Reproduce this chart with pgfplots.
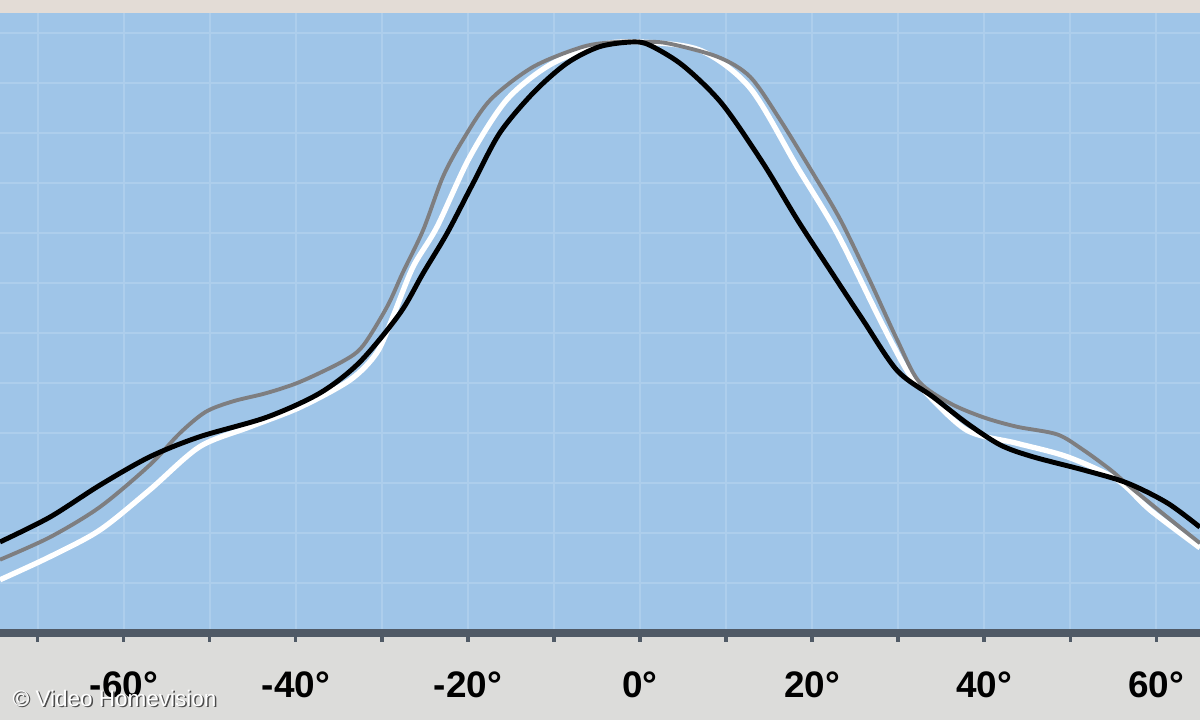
\documentclass[border=0pt]{standalone}
\usepackage{fontspec}
\setmainfont{Liberation Sans}
\usepackage{pgfplots}
\pgfplotsset{compat=1.18}

\definecolor{plotblue}{HTML}{9FC5E8}
\definecolor{gridblue}{HTML}{ADCEEC}
\definecolor{bandgrey}{HTML}{DCDCDA}
\definecolor{topgrey}{HTML}{E3DCD6}
\definecolor{axisgrey}{HTML}{505A66}
\definecolor{midgrey}{HTML}{7E7E80}

\begin{document}
\begin{tikzpicture}
    % bands above and below the plot area
    \fill[bandgrey] (0,-0.87) rectangle (12,0);
    \fill[topgrey] (0,6.2) rectangle (12,6.33);
    \begin{axis}[
        at={(0,0)}, anchor=south west,
        scale only axis,
        width=12cm, height=6.2cm,
        xmin=-74.4, xmax=65.1,
        ymin=0, ymax=104.9,
        axis background/.style={fill=plotblue},
        axis line style={draw=none},
        xtick={-70,-60,...,60},
        xticklabels={,-60°,,-40°,,-20°,,0°,,20°,,40°,,60°},
        xtick pos=bottom,
        tick align=outside,
        major tick length=0.09cm,
        x tick style={axisgrey, line width=0.9pt},
        xticklabel style={font=\fontsize{10.5}{12}\selectfont\bfseries, yshift=-0.17cm},
        ytick={8.46,16.92,...,104},
        yticklabels={},
        y tick style={draw=none},
        grid=major,
        major grid style={gridblue, line width=0.5pt},
        clip=true,
    ]

    % white curve
    \addplot[white, line width=1.5pt, smooth] coordinates {
        (-74.4,9.0)(-68.6,12.9)(-62.8,17.4)(-57.0,24.2)(-51.2,31.5)
        (-45.3,34.9)(-39.5,38.2)(-33.7,42.8)(-30.6,47.4)(-28.7,53.6)
        (-26.4,61.9)(-23.6,68.7)(-19.8,80.5)(-15.5,90.2)(-10.5,96.1)
        (-4.7,99.5)(0,100)(7.0,98.6)(12.8,92.2)(18.3,78.8)
        (22.9,67.7)(27.9,53.0)(31.0,44.5)(33.0,41.0)(38.0,34.3)
        (43.8,32.1)(49.7,29.8)(55.5,25.9)(59.3,20.8)(65.1,14.4)
    };

    % grey curve
    \addplot[midgrey, line width=1.1pt, smooth] coordinates {
        (-74.4,12.4)(-68.6,16.2)(-62.8,21.3)(-57.0,28.4)(-53.5,33.8)
        (-50.5,37.4)(-47.3,39.2)(-43.4,40.6)(-39.5,42.5)(-34.5,46.0)
        (-32.2,48.6)(-29.4,55.2)(-27.6,60.9)(-25.2,68.2)(-22.9,77.2)
        (-20.6,83.4)(-17.4,90.2)(-12.4,95.8)(-6.6,99.2)(-2.7,100)
        (0,100)(3.1,99.8)(9.0,97.5)(12.8,94.1)(16.3,86.8)
        (20.1,77.8)(23.3,69.9)(26.7,59.7)(29.9,49.6)(32.4,42.6)
        (36.0,38.9)(39.9,36.5)(43.8,34.9)(48.5,33.6)(51.5,31.0)
        (54.7,27.6)(57.0,24.7)(61.3,19.6)(65.1,15.2)
    };

    % black curve
    \addplot[black, line width=1.4pt, smooth] coordinates {
        (-74.4,15.4)(-68.6,19.6)(-62.8,25.0)(-57.0,29.8)(-51.2,33.2)
        (-43.4,36.5)(-37.2,40.6)(-32.6,45.8)(-27.9,54.1)
        (-25.2,60.9)(-22.4,67.7)(-19.4,76.1)(-16.3,84.6)(-12.4,91.4)
        (-8.5,96.4)(-4.7,99.2)(-0.8,100)(1.2,99.4)(5.0,96.0)
        (9.5,89.6)(14.3,79.5)(18.3,69.9)(22.1,61.4)
        (25.9,53.0)(29.9,44.4)(34.1,39.9)(38.0,35.5)(41.9,31.8)
        (45.7,29.8)(51.5,27.6)(56.6,25.4)(61.3,22.0)(65.1,17.9)
    };

    \end{axis}
    % axis line along the bottom
    \draw[axisgrey, line width=2.2pt] (0,0) -- (12,0);
    % copyright note
    \node[anchor=west, inner sep=0pt, text=black!70, font=\fontsize{6.4}{8}\selectfont] at (0.135,-0.665) {© Video Homevision};
    \node[anchor=west, inner sep=0pt, text=white, font=\fontsize{6.4}{8}\selectfont] at (0.12,-0.65) {© Video Homevision};
    \pgfresetboundingbox
    \path[use as bounding box] (0,-0.87) rectangle (12,6.33);
\end{tikzpicture}
\end{document}
